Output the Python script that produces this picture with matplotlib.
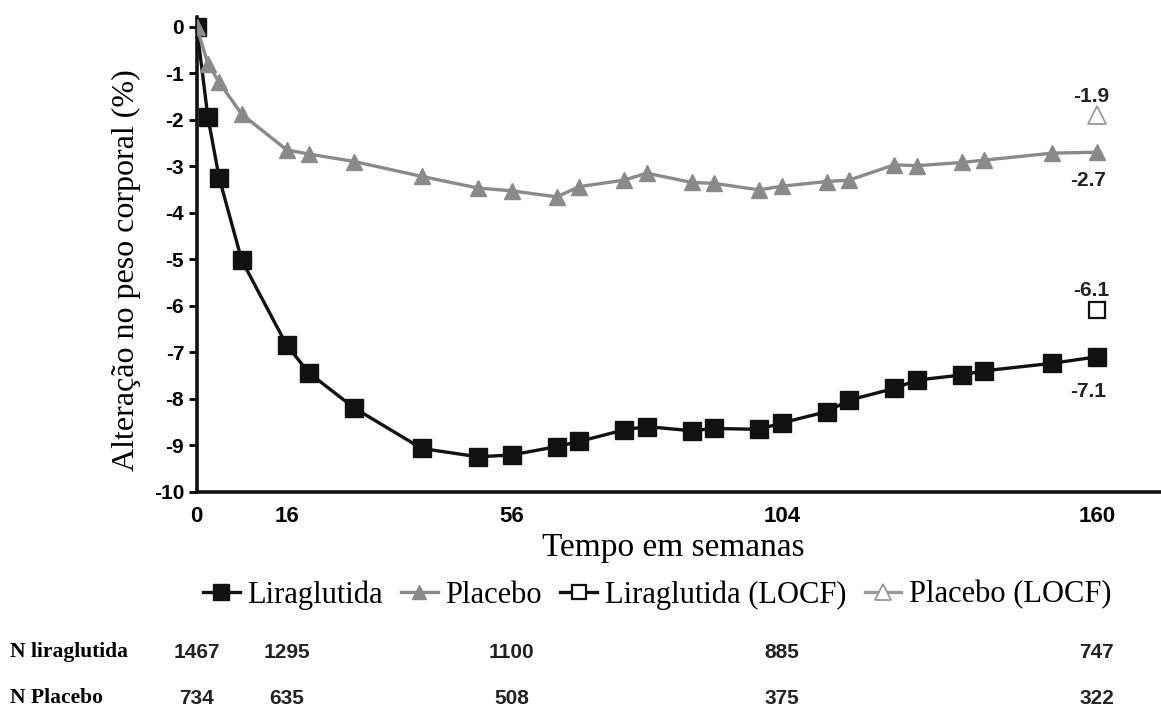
import matplotlib
matplotlib.use('Agg')
import matplotlib.pyplot as plt
import matplotlib.transforms as mtransforms

# semanas de visita
weeks = [0, 2, 4, 8, 16, 20, 28, 40, 50, 56, 64, 68, 76, 80, 88, 92,
         100, 104, 112, 116, 124, 128, 136, 140, 152, 160]
lira = [0, -1.95, -3.25, -5.02, -6.85, -7.45, -8.2, -9.07, -9.25, -9.21,
        -9.03, -8.92, -8.67, -8.6, -8.69, -8.64, -8.66, -8.52, -8.28, -8.03,
        -7.78, -7.6, -7.49, -7.4, -7.24, -7.1]
placebo = [0, -0.8, -1.2, -1.88, -2.65, -2.74, -2.9, -3.22, -3.47, -3.53,
           -3.66, -3.44, -3.3, -3.15, -3.35, -3.37, -3.51, -3.43, -3.33, -3.3,
           -2.97, -2.99, -2.92, -2.87, -2.72, -2.7]
locf_week = 160
lira_locf = -6.1
placebo_locf = -1.9

xticks = [0, 16, 56, 104, 160]
yticks = list(range(0, -11, -1))
n_lira = ['1467', '1295', '1100', '885', '747']
n_placebo = ['734', '635', '508', '375', '322']

BLACK = '#111111'
GRAY = '#8a8a8a'
SERIF = ['Liberation Serif', 'DejaVu Serif']
NARROW = ['Liberation Sans Narrow', 'Liberation Sans', 'DejaVu Sans']

fig = plt.figure(figsize=(11.61, 7.09), dpi=100)
ax = fig.add_axes([0.1694, 0.3065, 0.8306, 0.669])

ax.plot(weeks, lira, 's-', color=BLACK, lw=2.4, markersize=13,
        label='Liraglutida', zorder=3)
ax.plot(weeks, placebo, '^-', color=GRAY, lw=2.4, markersize=12,
        label='Placebo', zorder=4)
ax.plot([locf_week], [lira_locf], 's-', color=BLACK, mfc='white', mec=BLACK,
        mew=1.6, markersize=12, lw=2.4, label='Liraglutida (LOCF)', zorder=3)
ax.plot([locf_week], [placebo_locf], '^-', color='#9a9a9a', mfc='white',
        mec='#9a9a9a', mew=1.3, markersize=13, lw=2.4,
        label='Placebo (LOCF)', zorder=3)

# rótulos de valor final
lab_kw = dict(textcoords='offset points', ha='center', va='center',
              fontsize=15, fontweight='bold', family=NARROW, color='#222222')
ax.annotate(f'{placebo_locf}', (locf_week, placebo_locf), xytext=(-4, 13), **lab_kw)
ax.annotate(f'{placebo[-1]}', (weeks[-1], placebo[-1]), xytext=(-6, -20), **lab_kw)
ax.annotate(f'{lira_locf}', (locf_week, lira_locf), xytext=(-4, 14.5), **lab_kw)
ax.annotate(f'{lira[-1]}', (weeks[-1], lira[-1]), xytext=(-6, -25), **lab_kw)

ax.set_xlim(0, 171.4)
ax.set_ylim(-10, 0.2)
ax.set_xticks(xticks)
ax.set_yticks(yticks)
ax.set_xticklabels([str(x) for x in xticks], fontsize=16, fontweight='bold',
                   family=NARROW)
ax.set_yticklabels([str(y) for y in yticks], fontsize=15, fontweight='bold',
                   family=NARROW)
ax.tick_params(axis='x', length=0, pad=10)
ax.tick_params(axis='y', length=6, width=2, pad=3, direction='out')

for s in ['top', 'right']:
    ax.spines[s].set_visible(False)
for s in ['left', 'bottom']:
    ax.spines[s].set_linewidth(2.6)
    ax.spines[s].set_color(BLACK)

ax.set_xlabel('Tempo em semanas', fontsize=24, family=SERIF)
ax.xaxis.set_label_coords(0.494, -0.119)
ax.xaxis.label.set_va('center')
ax.set_ylabel('Alteração no peso corporal (%)', fontsize=23, family=SERIF)
ax.yaxis.set_label_coords(-0.073, 0.467)
ax.yaxis.label.set_va('center')

leg = fig.legend(loc='center', bbox_to_anchor=(0.566, 0.161), ncol=4,
                 frameon=False, prop={'family': SERIF, 'size': 22},
                 handlelength=1.2, handletextpad=0.25, columnspacing=0.6,
                 markerscale=0.85)

# número de pacientes por visita
trans = mtransforms.blended_transform_factory(ax.transData, fig.transFigure)
for w, a, b in zip(xticks, n_lira, n_placebo):
    ax.text(w, 1 - 652 / 709, a, transform=trans, ha='center', va='center',
            fontsize=15, fontweight='bold', family=NARROW, color='#222222')
    ax.text(w, 1 - 698 / 709, b, transform=trans, ha='center', va='center',
            fontsize=15, fontweight='bold', family=NARROW, color='#222222')
fig.text(10 / 1161, 1 - 652 / 709, 'N liraglutida', ha='left', va='center',
         fontsize=15.5, fontweight='bold', family=SERIF)
fig.text(10 / 1161, 1 - 698 / 709, 'N Placebo', ha='left', va='center',
         fontsize=15.5, fontweight='bold', family=SERIF)

fig.savefig('out.png', dpi=100)
